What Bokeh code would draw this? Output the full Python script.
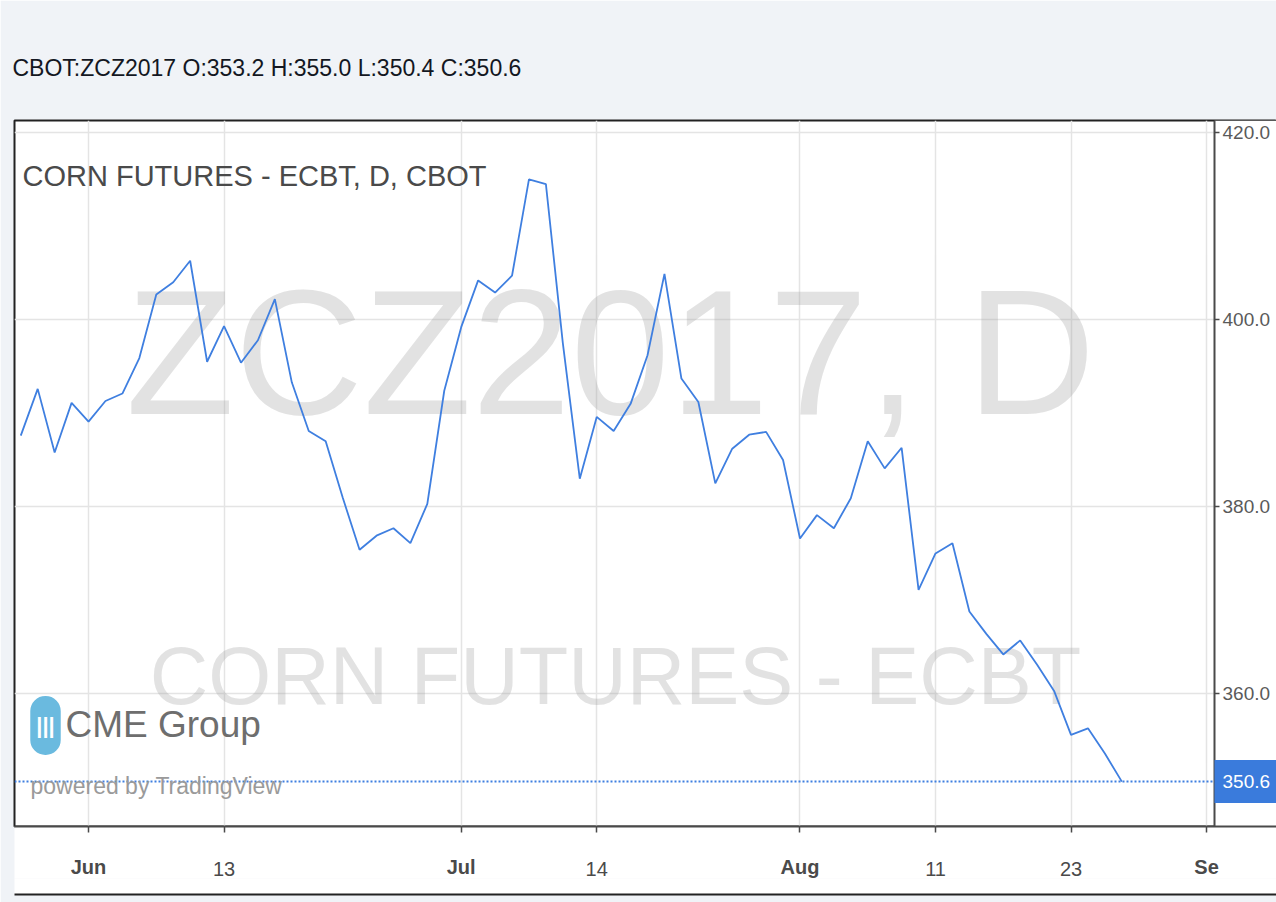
from bokeh.plotting import figure
from bokeh.models import (Range1d, FixedTicker, LinearAxis, Label, BoxAnnotation,
                          PrintfTickFormatter)
from bokeh.embed import file_html
from bokeh.resources import INLINE

# ---------------- data ----------------
symbol = "CBOT:ZCZ2017"
chart_title = "CORN FUTURES - ECBT, D, CBOT"
watermark_main = "ZCZ2017, D"
watermark_sub = "CORN FUTURES - ECBT"
ohlc_names = ["O", "H", "L", "C"]
ohlc_values = [353.2, 355.0, 350.4, 350.6]

# trading-day index (0 = 1 Jun 2017) and daily close
bar_index = list(range(-4, 62))
close = [387.6, 392.6, 385.8, 391.1,
         389.1, 391.3, 392.1, 395.9, 402.7, 404.0, 406.3, 395.5, 399.3, 395.4,
         397.8, 402.2, 393.3, 388.1, 387.0, 381.0, 375.4, 376.9, 377.7, 376.1,
         380.3, 392.4, 399.2, 404.2, 402.9, 404.7, 415.0, 414.5, 397.5, 383.0,
         389.6, 388.1, 391.0, 396.2, 404.9, 393.7, 391.2, 382.5, 386.2, 387.7,
         388.0, 385.0, 376.6, 379.1, 377.7, 380.9, 387.0, 384.1, 386.3, 371.1,
         375.0, 376.1, 368.8, 366.4, 364.2, 365.7, 363.1, 360.3, 355.6, 356.3,
         353.6, 350.6]

x_tick_index = [0, 8, 22, 30, 42, 50, 58, 66]
x_tick_labels = ["Jun", "13", "Jul", "14", "Aug", "11", "23", "Se"]
x_tick_is_month = [True, False, True, False, True, False, False, True]
y_ticks = [360, 380, 400, 420]

# visible window (bar index) and position of the price scale
x_start, x_end = -4.37, 70.13
price_scale_x = 66.47
y_start, y_end = 345.8, 421.3

# ---------------- styling ----------------
FONT = "Liberation Sans"
LINE_BLUE = "#3f7fe0"
LABEL_BLUE = "#3a7bdc"
GRAY_BG = "#f0f3f7"
GRID = "#e4e4e4"
AXIS_DARK = "#4a4a4a"

p = figure(width=1276, height=902, output_backend="svg", toolbar_location=None,
           x_range=Range1d(x_start, x_end), y_range=Range1d(y_start, y_end),
           y_axis_location="right",
           min_border_left=14, min_border_right=0,
           min_border_top=120, min_border_bottom=76,
           background_fill_color="white", border_fill_color=GRAY_BG)
p.outline_line_color = "#222222"
p.outline_line_width = 2

# header line (OHLC) as the figure title
header = symbol + " " + " ".join(f"{n}:{v:.1f}" for n, v in zip(ohlc_names, ohlc_values))
p.title.text = header
p.title.align = "left"
p.title.offset = -2
p.title.text_font = FONT
p.title.text_font_size = "23px"
p.title.text_font_style = "normal"
p.title.text_color = "#131722"
p.title.standoff = 79

# price scale (right), drawn at a fixed position inside the panel
yt = FixedTicker(ticks=y_ticks)
ya = p.yaxis[0]
ya.fixed_location = price_scale_x
ya.ticker = yt
ya.formatter = PrintfTickFormatter(format="%.1f")
ya.axis_line_color = AXIS_DARK
ya.axis_line_width = 2
ya.major_tick_line_color = AXIS_DARK
ya.major_tick_line_width = 1.5
ya.major_tick_out = 5
ya.major_tick_in = 0
ya.minor_tick_line_color = None
ya.major_label_standoff = 3
ya.major_label_text_font = FONT
ya.major_label_text_font_size = "19px"
ya.major_label_text_color = "#5a5a5a"

# x axis: day numbers + ticks
xt = FixedTicker(ticks=x_tick_index)
xa = p.xaxis[0]
xa.ticker = xt
xa.major_label_overrides = {i: ("" if m else t) for i, t, m in
                            zip(x_tick_index, x_tick_labels, x_tick_is_month)}
xa.axis_line_color = AXIS_DARK
xa.axis_line_width = 2
xa.major_tick_line_color = AXIS_DARK
xa.major_tick_line_width = 1.5
xa.major_tick_out = 6
xa.major_tick_in = 0
xa.minor_tick_line_color = None
xa.major_label_standoff = 29
xa.major_label_text_font = FONT
xa.major_label_text_font_size = "20px"
xa.major_label_text_color = AXIS_DARK
xa.background_fill_color = "white"

# month names (bold) on a second axis, pulled up into the same row
month_idx = [i for i, m in zip(x_tick_index, x_tick_is_month) if m]
month_lab = [t for t, m in zip(x_tick_labels, x_tick_is_month) if m]
ma = LinearAxis(ticker=FixedTicker(ticks=month_idx),
                major_label_overrides=dict(zip(month_idx, month_lab)))
ma.axis_line_color = None
ma.major_tick_line_color = None
ma.minor_tick_line_color = None
ma.major_tick_out = 0
ma.major_tick_in = 0
ma.major_label_standoff = -23
ma.major_label_text_font = FONT
ma.major_label_text_font_size = "20px"
ma.major_label_text_font_style = "bold"
ma.major_label_text_color = AXIS_DARK
ma.axis_label = " "
ma.axis_label_standoff = 0
ma.axis_label_text_font_size = "10px"
ma.background_fill_color = "white"
p.add_layout(ma, "below")

# bottom edge of the chart panel
ba = LinearAxis(ticker=FixedTicker(ticks=[]))
ba.axis_line_color = "#222222"
ba.axis_line_width = 2
ba.major_tick_line_color = None
ba.minor_tick_line_color = None
ba.major_tick_out = 0
ba.major_label_standoff = 0
p.add_layout(ba, "below")

p.xgrid.ticker = xt
p.ygrid.ticker = yt
for g in (p.xgrid, p.ygrid):
    g.grid_line_color = GRID
    g.grid_line_width = 1.5

# watermarks
p.add_layout(Label(x=610, y=352, x_units="canvas", y_units="canvas",
                   text=watermark_main, text_align="center", text_baseline="middle",
                   text_font=FONT, text_font_size="178px",
                   text_color="#a0a0a0", text_alpha=0.3, level="underlay"))
p.add_layout(Label(x=615, y=675, x_units="canvas", y_units="canvas",
                   text=watermark_sub, text_align="center", text_baseline="middle",
                   text_font=FONT, text_font_size="81px",
                   text_color="#a0a0a0", text_alpha=0.3, level="underlay"))

# white price-scale area (right of the scale line)
p.add_layout(BoxAnnotation(left=price_scale_x, fill_color="white", fill_alpha=1,
                           line_color=None, level="glyph"))

# price line and last-price dotted line
p.line(bar_index, close, line_color=LINE_BLUE, line_width=1.8)
p.line([x_start, price_scale_x], [close[-1], close[-1]], line_color=LINE_BLUE,
       line_dash="2 2", line_width=2)

# last price tag on the price scale
p.add_layout(Label(x=price_scale_x, y=close[-1], x_units="data", y_units="data",
                   text=f"{close[-1]:.1f}", text_align="left",
                   text_baseline="middle", text_font=FONT,
                   text_font_size="19px", text_color="white",
                   background_fill_color=LABEL_BLUE, background_fill_alpha=1,
                   padding=(8, 15)))

# chart title
p.add_layout(Label(x=22, y=175, x_units="canvas", y_units="canvas", text=chart_title,
                   text_align="left", text_baseline="middle", text_font=FONT,
                   text_font_size="29px", text_color="#4a4a4a"))

# CME Group / TradingView branding
p.add_layout(Label(x=45, y=725, x_units="canvas", y_units="canvas", text="|||",
                   text_align="center", text_baseline="middle", text_font=FONT,
                   text_font_size="22px", text_font_style="bold", text_color="white",
                   background_fill_color="#5ab2dc", background_fill_alpha=0.9,
                   border_radius=15, padding=(6, 17)))
p.add_layout(Label(x=65, y=724, x_units="canvas", y_units="canvas", text="CME Group",
                   text_align="left", text_baseline="middle", text_font=FONT,
                   text_font_size="37px", text_color="#6e6e6e"))
p.add_layout(Label(x=30, y=785, x_units="canvas", y_units="canvas",
                   text="powered by TradingView", text_align="left",
                   text_baseline="middle", text_font=FONT, text_font_size="23px",
                   text_color="#9a9a9a"))

open("out.html", "w").write(file_html(p, INLINE))
